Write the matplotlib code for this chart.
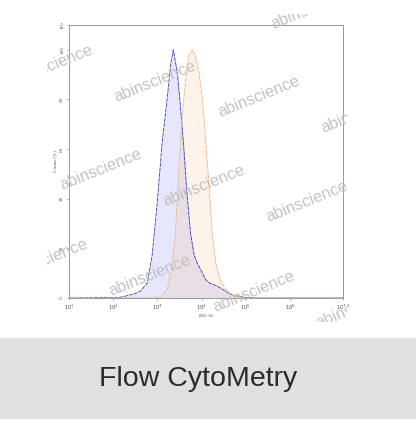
import numpy as np
import matplotlib
matplotlib.use("Agg")
import matplotlib.pyplot as plt
from matplotlib.patches import Rectangle

# Data (log10 of FSC-H, Count %)
blue_logx = [1.0, 1.5, 1.8, 2.0, 2.2, 2.39, 2.5, 2.61, 2.77, 2.88, 2.99, 3.11, 3.22, 3.30, 3.36,
             3.45, 3.52, 3.60, 3.67, 3.75, 3.83, 3.90, 3.98, 4.09, 4.20, 4.32, 4.43, 4.58,
             4.73, 4.96, 5.2, 7.2]
blue_y = [0.0, 0.1, 0.3, 0.1, 0.4, 1.3, 1.8, 2.7, 6.0, 17.0, 37.0, 63.0, 80.0, 94.0, 100.0,
          91.0, 77.5, 60.0, 42.0, 26.0, 17.5, 14.0, 11.5, 7.4, 5.8, 5.1, 4.0, 2.3,
          1.0, 0.3, 0.0, 0.0]
orange_logx = [1.0, 2.9, 3.07, 3.22, 3.33, 3.41, 3.48, 3.56, 3.64, 3.71, 3.79, 3.86, 3.94,
               4.02, 4.09, 4.17, 4.24, 4.32, 4.43, 4.58, 4.73, 4.89, 5.1, 7.2]
orange_y = [0.0, 0.0, 0.5, 3.4, 12.8, 26.0, 50.5, 73.0, 88.0, 97.7, 100.0, 97.7, 91.0,
            80.0, 64.0, 45.0, 26.0, 14.0, 6.7, 2.7, 0.9, 0.2, 0.0, 0.0]
xtick_exps = [1, 2, 3, 4, 5, 6, 7.2]
xtick_labels = [r"$10^{1}$", r"$10^{2}$", r"$10^{3}$", r"$10^{4}$", r"$10^{5}$",
                r"$10^{6}$", r"$10^{7.2}$"]
ytick_vals = [0, 20, 40, 60, 80, 100, 110]
watermark = "abinscience"
caption = "Flow CytoMetry"

W, H = 416, 424
fig = plt.figure(figsize=(W / 100, H / 100), dpi=100)
fig.patch.set_facecolor("white")

def fx(px):
    return px / W

def fy(py):
    return 1 - py / H

# bottom gray band
fig.patches.append(Rectangle((0, fy(419)), 1, fy(338) - fy(419), transform=fig.transFigure,
                             facecolor="#dfe0e0", edgecolor="none", zorder=0))
fig.text(fx(198), fy(379), caption, ha="center", va="center", fontsize=20.5,
         family="Liberation Sans", color="#2b2b2b")

ax = fig.add_axes([fx(69), fy(298), fx(343) - fx(69), fy(25) - fy(298)])
ax.set_xscale("log")
bx = 10 ** np.array(blue_logx)
ox = 10 ** np.array(orange_logx)
ax.fill_between(bx, blue_y, color="#6464e6", alpha=0.15, linewidth=0)
ax.fill_between(ox, orange_y, color="#f5aa64", alpha=0.14, linewidth=0)
ax.plot(bx, blue_y, color="#3a3ab4", lw=0.6, ls=(0, (5, 1)))
ax.plot(ox, orange_y, color="#f0b482", lw=0.6, ls=(0, (5, 1)))
ax.set_xlim(10 ** 1, 10 ** 7.2)
ax.set_ylim(0, 110)
ax.set_xticks([10 ** e for e in xtick_exps])
ax.set_xticklabels(xtick_labels)
ax.xaxis.set_minor_locator(matplotlib.ticker.NullLocator())
ax.set_yticks(ytick_vals)
ax.set_yticklabels([str(v) for v in ytick_vals], rotation=90, va="center")
ax.tick_params(labelsize=3.8, length=1.5, width=0.5, color="#888888", labelcolor="#555555", pad=2)
for s in ax.spines.values():
    s.set_color("#999999")
    s.set_linewidth(0.7)
ax.set_xlabel("FSC-H", fontsize=3.8, color="#555555", labelpad=1, family="Liberation Serif")
ax.set_ylabel("Count (%)", fontsize=3.8, color="#555555", labelpad=2, family="Liberation Serif")
for lab in ax.get_xticklabels() + ax.get_yticklabels():
    lab.set_family("Liberation Serif")

# watermarks
clip = Rectangle((fx(47), fy(322)), fx(347) - fx(47), fy(14) - fy(322), transform=fig.transFigure,
                 facecolor="none", edgecolor="none")
fig.patches.append(clip)
centers = [(155, 82), (259, 97), (101, 170), (204, 186), (307, 202), (150, 276), (254, 292),
           (52, 66), (312, 9), (362, 113), (47, 260), (357, 308)]
for cx, cy in centers:
    t = fig.text(fx(cx), fy(cy), watermark, ha="center", va="center", rotation=22,
                 rotation_mode="anchor", fontsize=11.8, family="Liberation Sans",
                 color="#bcbcbc", alpha=0.9, zorder=10)
    t.set_clip_path(clip)

fig.savefig("out.png", dpi=100)
